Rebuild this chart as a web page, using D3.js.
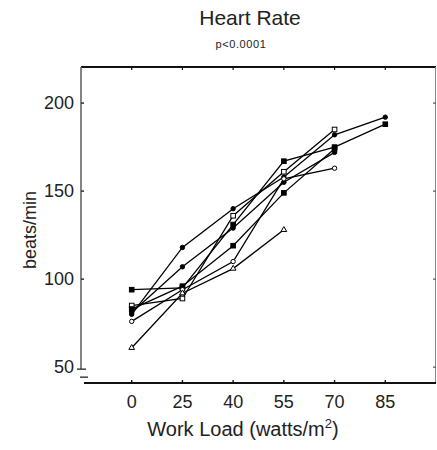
<!DOCTYPE html>
<html>
<head>
<meta charset="utf-8">
<script src="https://cdn.jsdelivr.net/npm/d3@7"></script>
<style>
  body { margin: 0; background: #fff; }
  text { font-family: "Liberation Sans", Arial, sans-serif; fill: #222; }
</style>
</head>
<body>
<svg id="chart" width="437" height="450"></svg>
<script>
// Work load levels (watts/m2) and y tick values
const workLoads = ["0", "25", "40", "55", "70", "85"];
const yTicks = [50, 100, 150, 200];

// Heart rate per subject (beats/min), one value per work load reached
const subjectA = [80, 118, 140, 158, 182, 192];
const subjectB = [94, 95, 131, 167, 175, 188];
const subjectC = [85, 89, 136, 161, 185];
const subjectD = [81, 107, 129, 155, 172];
const subjectE = [83, 96, 119, 149, 174];
const subjectF = [76, 94, 110, 157, 163];
const subjectG = [61, 92, 106, 128];

const series = [
    { values: subjectA, marker: "circle", filled: true },
    { values: subjectB, marker: "square", filled: true },
    { values: subjectC, marker: "square", filled: false },
    { values: subjectD, marker: "circle", filled: true },
    { values: subjectE, marker: "square", filled: true },
    { values: subjectF, marker: "circle", filled: false },
    { values: subjectG, marker: "triangle", filled: false }
];

const svg = d3.select("#chart");
const plotLeft = 81, plotRight = 436, plotTop = 67, plotBottom = 383;

const x = d3.scalePoint().domain(workLoads).range([plotLeft, plotRight]).padding(1);
const y = d3.scaleLinear().domain([41, 220.5]).range([plotBottom, plotTop]);

// Titles
svg.append("text").attr("x", 250).attr("y", 25)
    .attr("text-anchor", "middle").style("font-size", "21px").text("Heart Rate");
svg.append("text").attr("x", 241).attr("y", 48)
    .attr("text-anchor", "middle").style("font-size", "11px")
    .style("letter-spacing", "0.6px").text("p<0.0001");

// Frame: top and right borders
svg.append("line").attr("x1", plotLeft).attr("x2", plotRight).attr("y1", plotTop).attr("y2", plotTop)
    .attr("stroke", "#111").attr("stroke-width", 2);
svg.append("line").attr("x1", plotRight - 0.5).attr("x2", plotRight - 0.5).attr("y1", plotTop).attr("y2", plotBottom)
    .attr("stroke", "#888").attr("stroke-width", 1);

// Left axis (broken near 50)
const yAxis = svg.append("g");
yAxis.append("line").attr("x1", plotLeft).attr("x2", plotLeft).attr("y1", plotTop).attr("y2", y(50) + 2)
    .attr("stroke", "#666").attr("stroke-width", 1.6);
yAxis.selectAll(".ytick").data(yTicks.filter(d => d !== 50)).enter().append("line")
    .attr("x1", plotLeft).attr("x2", plotLeft + 3)
    .attr("y1", d => y(d)).attr("y2", d => y(d))
    .attr("stroke", "#333").attr("stroke-width", 1.5);
yAxis.append("line").attr("x1", plotLeft - 4).attr("x2", plotLeft + 5)
    .attr("y1", y(50) + 2).attr("y2", y(50) + 2).attr("stroke", "#333").attr("stroke-width", 1.4);
yAxis.append("line").attr("x1", plotLeft - 1).attr("x2", plotLeft + 7)
    .attr("y1", y(50) + 10).attr("y2", y(50) + 10).attr("stroke", "#333").attr("stroke-width", 1.4);
yAxis.selectAll(".ylab").data(yTicks).enter().append("text")
    .attr("x", plotLeft - 7).attr("y", d => y(d) + 6)
    .attr("text-anchor", "end").style("font-size", "18px").text(d => d);

// Right-side ticks
svg.selectAll(".rtick").data(yTicks).enter().append("line")
    .attr("x1", plotRight - 3).attr("x2", plotRight)
    .attr("y1", d => y(d)).attr("y2", d => y(d))
    .attr("stroke", "#555").attr("stroke-width", 1.2);

// Bottom axis
svg.append("line").attr("x1", plotLeft + 3).attr("x2", plotRight).attr("y1", plotBottom).attr("y2", plotBottom)
    .attr("stroke", "#111").attr("stroke-width", 1.8);
svg.selectAll(".xtick").data(workLoads).enter().append("line")
    .attr("x1", d => x(d)).attr("x2", d => x(d))
    .attr("y1", plotBottom).attr("y2", plotBottom - 3)
    .attr("stroke", "#111").attr("stroke-width", 1.4);
svg.selectAll(".ttick").data(workLoads).enter().append("line")
    .attr("x1", d => x(d)).attr("x2", d => x(d))
    .attr("y1", plotTop).attr("y2", plotTop + 3)
    .attr("stroke", "#111").attr("stroke-width", 1.2);
svg.selectAll(".xlab").data(workLoads).enter().append("text")
    .attr("x", d => x(d)).attr("y", 408)
    .attr("text-anchor", "middle").style("font-size", "18px").text(d => d);

// Axis titles
const xTitle = svg.append("text").attr("x", 243).attr("y", 436)
    .attr("text-anchor", "middle").style("font-size", "20px");
xTitle.append("tspan").text("Work Load (watts/m");
xTitle.append("tspan").attr("dy", -8).style("font-size", "13px").text("2");
xTitle.append("tspan").attr("dy", 8).text(")");

svg.append("text")
    .attr("transform", "translate(36,230) rotate(-90)")
    .attr("text-anchor", "middle").style("font-size", "18px").text("beats/min");

// Data lines
const line = d3.line()
    .x((d, i) => x(workLoads[i]))
    .y(d => y(d));

const plot = svg.append("g");
plot.selectAll(".subject").data(series).enter().append("path")
    .attr("d", d => line(d.values))
    .attr("fill", "none")
    .attr("stroke", "#000")
    .attr("stroke-width", 1.3);

// Markers
series.forEach(s => {
    const g = plot.append("g");
    const pts = s.values.map((v, i) => ({ cx: x(workLoads[i]), cy: y(v) }));
    const fill = s.filled ? "#000" : "#fff";
    if (s.marker === "circle") {
        g.selectAll("circle").data(pts).enter().append("circle")
            .attr("cx", d => d.cx).attr("cy", d => d.cy).attr("r", 2.2)
            .attr("fill", fill).attr("stroke", "#000").attr("stroke-width", 1);
    } else if (s.marker === "square") {
        g.selectAll("rect").data(pts).enter().append("rect")
            .attr("x", d => d.cx - 2.3).attr("y", d => d.cy - 2.3)
            .attr("width", 4.6).attr("height", 4.6)
            .attr("fill", fill).attr("stroke", "#000").attr("stroke-width", 1);
    } else {
        g.selectAll("path").data(pts).enter().append("path")
            .attr("d", d3.symbol().type(d3.symbolTriangle).size(14))
            .attr("transform", d => `translate(${d.cx},${d.cy})`)
            .attr("fill", fill).attr("stroke", "#000").attr("stroke-width", 1);
    }
});
</script>
</body>
</html>
